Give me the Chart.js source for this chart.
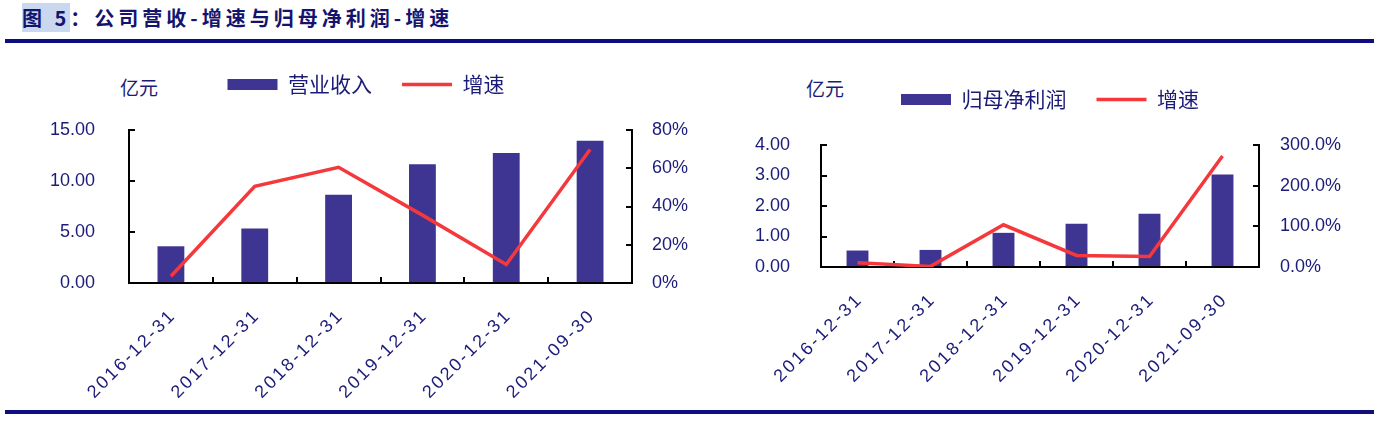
<!DOCTYPE html>
<html>
<head>
<meta charset="utf-8">
<script src="https://cdn.jsdelivr.net/npm/chart.js@4.4.1/dist/chart.umd.min.js"></script>
<style>
  body { margin: 0; width: 1379px; height: 421px; background: #fff; position: relative; overflow: hidden; font-family: "Noto Sans CJK SC", sans-serif; }
  .title { position: absolute; left: 22px; top: 4px; font-size: 20px; line-height: 28px; font-weight: bold; color: #14146e; letter-spacing: 4px; white-space: nowrap; }
  .title span { background: #c9d8ee; }
  .rule { position: absolute; left: 5px; width: 1369px; height: 4px; background: #0e0e80; }
  .unit { position: absolute; font-size: 19px; line-height: 20px; color: #1b1b78; }
  .box { position: absolute; top: 40px; height: 365px; }
</style>
</head>
<body>
<div class="title"><span>图 5</span>：公司营收-增速与归母净利润-增速</div>
<div class="rule" style="top:39px"></div>
<div class="unit" style="left:120px;top:77px">亿元</div>
<div class="unit" style="left:806px;top:78px">亿元</div>
<div class="box" style="left:0px;width:732px"><canvas id="revChart"></canvas></div>
<div class="box" style="left:712px;width:676px"><canvas id="profitChart"></canvas></div>
<div class="rule" style="top:410px"></div>
<script>
const categories = ['2016-12-31', '2017-12-31', '2018-12-31', '2019-12-31', '2020-12-31', '2021-09-30'];
const revenue = [3.6, 5.35, 8.65, 11.65, 12.75, 13.95];
const revenueGrowth = [3.5, 50.5, 60.5, 35.5, 9.7, 69.8];
const profit = [0.54, 0.56, 1.12, 1.42, 1.75, 3.03];
const profitGrowth = [10.5, 1.5, 103.8, 28.4, 26.0, 273.0];

const NAVY = '#1b1b78';
const BAR = '#3e3492';
const RED = '#f5383c';

// force legend box height so the plot area starts where it should
const legendHeight = {
  id: 'legendHeight',
  beforeLayout(chart, args, opts) {
    const lg = chart.legend;
    if (!lg || lg._patched) return;
    const fit = lg.fit;
    lg.fit = function () { fit.call(this); this.height = opts.h; };
    lg._patched = true;
  }
};

// the date labels in the source are set wider than a plain sans
const spacedX = {
  id: 'spacedX',
  beforeDraw(chart) {
    const s = chart.scales.x;
    if (s._spaced) return;
    const orig = s.drawLabels;
    s.drawLabels = function (area) {
      const ctx = this.ctx;
      ctx.save();
      ctx.letterSpacing = '2.5px';
      ctx.translate(2.5, 0);
      orig.call(this, area);
      ctx.restore();
    };
    s._spaced = true;
  }
};

function legendItems(chart) {
  return chart.data.datasets.map((ds, i) => ({
    text: ds.label,
    datasetIndex: i,
    fillStyle: ds.type === 'line' ? ds.borderColor : ds.backgroundColor,
    strokeStyle: ds.type === 'line' ? ds.borderColor : ds.backgroundColor,
    lineWidth: ds.type === 'line' ? 3.5 : 0,
    pointStyle: ds.type === 'line' ? 'line' : 'rect',
    fontColor: NAVY,
    hidden: false
  }));
}

function makeChart(id, cfg) {
  const tickFont = { family: 'Liberation Sans', size: 18 };
  return new Chart(document.getElementById(id), {
    type: 'bar',
    data: {
      labels: categories,
      datasets: [
        {
          type: 'bar', label: cfg.barLabel, data: cfg.bars, yAxisID: 'y',
          backgroundColor: BAR, borderWidth: 0, order: 2,
          barPercentage: cfg.barPct, categoryPercentage: 1
        },
        {
          type: 'line', label: '增速', data: cfg.line, yAxisID: 'y1',
          borderColor: RED, backgroundColor: RED, borderWidth: 3.5,
          pointRadius: 0, tension: 0, order: 1
        }
      ]
    },
    options: {
      responsive: true,
      maintainAspectRatio: false,
      animation: false,
      layout: { padding: { top: cfg.padTop, left: 0, right: 0, bottom: 0 } },
      plugins: {
        legendHeight: { h: cfg.legendH },
        tooltip: { enabled: false },
        legend: {
          position: 'top',
          labels: {
            usePointStyle: true, pointStyleWidth: 50, boxHeight: 11,
            padding: 30, color: NAVY,
            font: { family: 'Noto Sans CJK SC', size: 21 },
            generateLabels: legendItems
          }
        }
      },
      scales: {
        x: {
          offset: true,
          grid: { offset: true, display: true, drawOnChartArea: false, drawTicks: true, tickLength: -6, color: '#000', lineWidth: 2 },
          border: { display: true, color: '#000', width: 2 },
          ticks: { color: NAVY, font: tickFont, minRotation: 45, maxRotation: 45, padding: 28, autoSkip: false },
          afterFit(s) { s.height = cfg.xH; }
        },
        y: {
          position: 'left', min: 0, max: cfg.yMax, ticks: {
            stepSize: cfg.yStep, color: NAVY, font: tickFont, padding: cfg.leftPad,
            callback: v => v.toFixed(2)
          },
          grid: { display: true, drawOnChartArea: false, drawTicks: true, tickLength: -6, color: '#000', lineWidth: 2 },
          border: { display: true, color: '#000', width: 2 },
          afterFit(s) { s.width = cfg.leftW; }
        },
        y1: {
          position: 'right', min: 0, max: cfg.y1Max, ticks: {
            stepSize: cfg.y1Step, color: NAVY, font: tickFont, padding: cfg.rightPad,
            callback: cfg.y1Fmt
          },
          grid: { display: true, drawOnChartArea: false, drawTicks: true, tickLength: -6, color: '#000', lineWidth: 2 },
          border: { display: true, color: '#000', width: 2 },
          afterFit(s) { s.width = cfg.rightW; }
        }
      }
    },
    plugins: [legendHeight, spacedX]
  });
}

makeChart('revChart', {
  barLabel: '营业收入', bars: revenue, line: revenueGrowth, barPct: 0.32,
  padTop: 4, legendH: 86, xH: 122,
  yMax: 15, yStep: 5, y1Max: 80, y1Step: 20,
  y1Fmt: v => v + '%',
  leftW: 129, rightW: 100, leftPad: 40, rightPad: 26
});

makeChart('profitChart', {
  barLabel: '归母净利润', bars: profit, line: profitGrowth, barPct: 0.30,
  padTop: 19, legendH: 86, xH: 138,
  yMax: 4, yStep: 1, y1Max: 300, y1Step: 100,
  y1Fmt: v => v.toFixed(1) + '%',
  leftW: 109, rightW: 129, leftPad: 37, rightPad: 27
});
</script>
</body>
</html>
